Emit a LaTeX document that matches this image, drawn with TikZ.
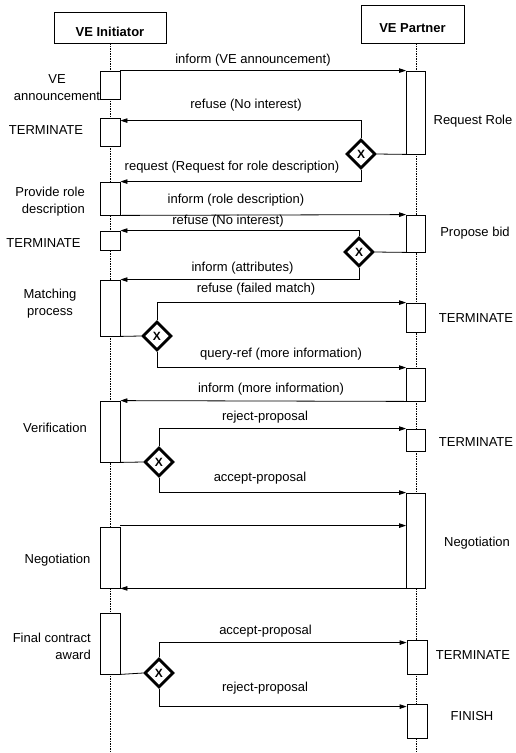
\documentclass[tikz,border=0pt]{standalone}
\usepackage{fontspec}
\setmainfont{Liberation Sans}
\usetikzlibrary{arrows.meta,shapes.geometric,calc}

\begin{document}
\begin{tikzpicture}[x=1pt,y=-1pt,
  every node/.style={font=\fontsize{13}{17}\selectfont},
  header/.style={draw, line width=0.8pt, inner sep=0pt,
    font=\fontsize{13}{17}\selectfont\bfseries, text height=17.5pt, text depth=0pt},
  lifeline/.style={line width=0.6pt, dash pattern=on 1.5pt off 1pt},
  actbox/.style={draw, fill=white, line width=0.8pt, minimum width=20pt, inner sep=0pt},
  msg/.style={line width=0.8pt, -{Triangle[length=7pt,width=4.5pt]}},
  link/.style={line width=0.8pt},
  xgate/.style={diamond, draw, fill=white, line width=2.8pt, minimum width=29pt,
    minimum height=29pt, inner sep=0pt, font=\fontsize{12}{12}\selectfont\bfseries},
  lbl/.style={inner sep=0pt},
]
\useasboundingbox (0,0) rectangle (515,753);

% role headers
\node[header, minimum width=112pt, minimum height=31pt] (ini) at (110,27.5) {VE Initiator};
\node[header, minimum width=103pt, minimum height=38pt] (par) at (412.5,24) {VE Partner};

% lifelines
\coordinate (iend) at (110,753);
\coordinate (pend) at (416,753);
\draw[lifeline] (ini.south) -- (iend);
\draw[lifeline] (par.south -| pend) -- (pend);

% activation boxes of the initiator
\node[actbox, minimum height=28pt] (i1) at (110,85) {};
\node[actbox, minimum height=28pt] (i2) at (110,132) {};
\node[actbox, minimum height=33pt] (i3) at (110,198.5) {};
\node[actbox, minimum height=19pt] (i4) at (110,240.5) {};
\node[actbox, minimum height=56pt] (i5) at (110,308) {};
\node[actbox, minimum height=61pt] (i6) at (110,431.5) {};
\node[actbox, minimum height=61pt] (i7) at (110,557.5) {};
\node[actbox, minimum height=61pt] (i8) at (110,643.5) {};

% activation boxes of the partner
\node[actbox, minimum width=19pt, minimum height=83pt] (p1) at (416,112.5) {};
\node[actbox, minimum width=19pt, minimum height=37pt] (p2) at (416,233.5) {};
\node[actbox, minimum width=19pt, minimum height=29pt] (p3) at (416,317.5) {};
\node[actbox, minimum width=19pt, minimum height=33pt] (p4) at (416,384.5) {};
\node[actbox, minimum width=19pt, minimum height=22pt] (p5) at (416,440) {};
\node[actbox, minimum width=19pt, minimum height=95pt] (p6) at (416,540.5) {};
\node[actbox, minimum width=20pt, minimum height=34pt] (p7) at (417,657) {};
\node[actbox, minimum width=20pt, minimum height=34pt] (p8) at (417,721) {};

% exclusive decision gates
\node[xgate] (d1) at (361,154) {X};
\node[xgate] (d2) at (359,252) {X};
\node[xgate] (d3) at (157,336) {X};
\node[xgate] (d4) at (159,462) {X};
\node[xgate] (d5) at (159,673) {X};

% messages and gate branches
\draw[msg] (i1.north east) -- (p1.north west);
\draw[link] (d1.east) -- (p1.south west);
\draw[msg] (d1.north) |- ([yshift=-3pt]i2.north east);
\draw[msg] (d1.south) |- (i3.north east);
\draw[msg] (i3.south east) -- (p2.north west);
\draw[link] (d2.east) -- (p2.south west);
\draw[msg] (d2.north) |- (i4.north east);
\draw[msg] (d2.south) |- (i5.north east);
\draw[link] (i5.south east) -- (d3.west);
\draw[msg] (d3.north) |- (p3.north west);
\draw[msg] (d3.south) |- (p4.north west);
\draw[msg] (p4.south west) -- (i6.north east);
\draw[link] (i6.south east) -- (d4.west);
\draw[msg] (d4.north) |- (p5.north west);
\draw[msg] (d4.south) |- (p6.north west);
\draw[msg] ([yshift=1pt]i7.north east) -- ([yshift=1pt]i7.north east -| p6.west);
\draw[msg] (p6.south west) -- (i7.south east);
\draw[link] (i8.south east) -- (d5.west);
\draw[msg] (d5.north) |- ([yshift=-3pt]p7.north west);
\draw[msg] (d5.south) |- ([yshift=-3pt]p8.north west);

% message labels
\node[lbl] (m1) at (253,60) {inform (VE announcement)};
\node[lbl] (m2) at (246,105) {refuse (No interest)};
\node[lbl] (m3) at (232,167) {request (Request for role description)};
\node[lbl] (m4) at (236,200) {inform (role description)};
\node[lbl] (m5) at (228,221) {refuse (No interest)};
\node[lbl] (m6) at (242.5,268) {inform (attributes)};
\node[lbl] (m7) at (256,289) {refuse (failed match)};
\node[lbl] (m8) at (281,354) {query-ref (more information)};
\node[lbl] (m9) at (271,389) {inform (more information)};
\node[lbl] (m10) at (265,417) {reject-proposal};
\node[lbl] (m11) at (260,478) {accept-proposal};
\node[lbl] (m12) at (265.5,631) {accept-proposal};
\node[lbl] (m13) at (265,688) {reject-proposal};

% activity names, initiator side
\node[lbl, align=center] (s1) at (57,87.5) {VE\\announcement};
\node[lbl] (s2) at (46,130) {TERMINATE};
\node[lbl, align=right, anchor=east] (s3) at (85,202) {Provide role\\description};
\node[lbl] (s4) at (43.5,243) {TERMINATE};
\node[lbl, align=center] (s5) at (50,304) {Matching\\process};
\node[lbl] (s6) at (55,428) {Verification};
\node[lbl] (s7) at (57.5,560) {Negotiation};
\node[lbl, align=right, anchor=east] (s8) at (91,646) {Final contract\\award};

% activity names, partner side
\node[lbl] (t1) at (473,121) {Request Role};
\node[lbl] (t2) at (475,233) {Propose bid};
\node[lbl] (t3) at (476,318) {TERMINATE};
\node[lbl] (t4) at (476,442) {TERMINATE};
\node[lbl] (t5) at (477,543) {Negotiation};
\node[lbl] (t6) at (473,655) {TERMINATE};
\node[lbl] (t7) at (472,716) {FINISH};
\end{tikzpicture}
\end{document}
